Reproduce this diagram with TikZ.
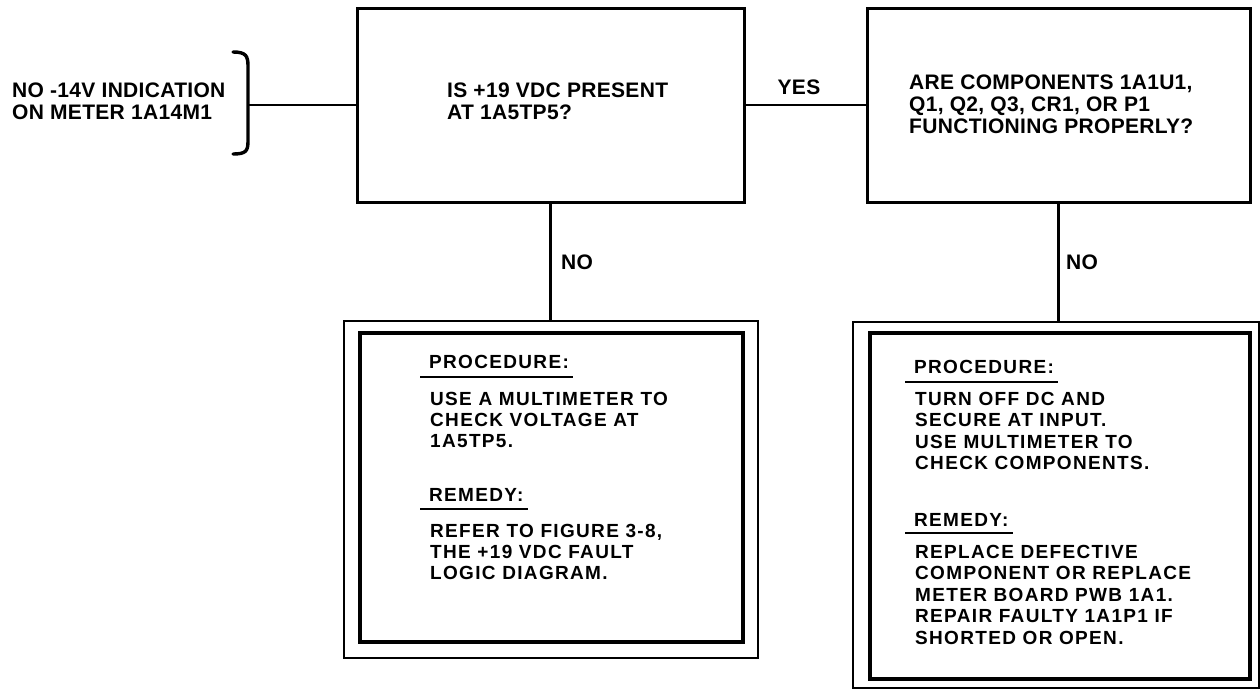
\documentclass[tikz,border=0pt]{standalone}
\usepackage{fontspec}
\setmainfont{Liberation Sans}
\newfontfamily\topfont{Liberation Sans}[LetterSpace=1.5]
\newfontfamily\lowfont{Liberation Sans}[LetterSpace=7]
\begin{document}
\begin{tikzpicture}[x=1pt,y=-1pt,
  qbox/.style={draw,line width=3pt,inner sep=0pt},
  obox/.style={draw,line width=2.6pt,inner sep=0pt},
  ibox/.style={draw,line width=3.4pt,inner sep=0pt},
  conn/.style={line width=2.6pt},
  ul/.style={line width=2pt},
  toptxt/.style={inner sep=0pt,anchor=north west,align=left,font=\topfont\bfseries\fontsize{21}{22}\selectfont},
  lowtxtA/.style={inner sep=0pt,anchor=north west,align=left,font=\lowfont\bfseries\fontsize{19}{21}\selectfont},
  lowtxtB/.style={inner sep=0pt,anchor=north west,align=left,font=\lowfont\bfseries\fontsize{19}{21.4}\selectfont},
  lbl/.style={inner sep=0pt,font=\topfont\bfseries\fontsize{21}{22}\selectfont}]
\useasboundingbox (0,0) rectangle (1260,689);

% decision boxes
\node[qbox,minimum width=387pt,minimum height=194pt] (q1) at (550.5,105) {};
\node[qbox,minimum width=383pt,minimum height=194pt] (q2) at (1058.5,105) {};

% procedure boxes (double frames)
\node[obox,minimum width=414pt,minimum height=337pt] (p1o) at (551,489.5) {};
\node[ibox,minimum width=383pt,minimum height=309pt] (p1i) at (551.5,487.5) {};
\node[obox,minimum width=406pt,minimum height=366pt] (p2o) at (1056,505) {};
\node[ibox,minimum width=380pt,minimum height=346pt] (p2i) at (1060,506) {};

% starting condition with brace
\node[toptxt] (start) at (12,83) {NO -14V INDICATION\\ON METER 1A14M1};
\coordinate (bt) at (233,52);
\coordinate (bb) at (233,154);
\coordinate (bm) at (248,105);
\draw[line width=3.4pt,line cap=round]
  (bt) .. controls (246,52) and (248,56) .. (248,66) -- (248,141)
  .. controls (248,151) and (246,154) .. (bb);
\draw[conn] (bm) -- (q1.west);

% question texts
\node[toptxt] (q1t) at (447,83) {IS +19 VDC PRESENT\\AT 1A5TP5?};
\node[toptxt] (q2t) at (909,75) {ARE COMPONENTS 1A1U1,\\Q1, Q2, Q3, CR1, OR P1\\FUNCTIONING PROPERLY?};

% connectors
\draw[conn] (q1.east) -- (q2.west);
\node[lbl] (yes) at (799,87) {YES};
\draw[conn] (q1.south) -- (q1.south |- p1o.north);
\node[lbl] (no1) at (577,262) {NO};
\draw[conn] (q2.south) -- (q2.south |- p2o.north);
\node[lbl] (no2) at (1082,262) {NO};

% procedure box 1 texts
\node[lowtxtA] (h1a) at (429,355) {PROCEDURE:};
\draw[ul] ([xshift=-9pt,yshift=-8pt]h1a.south west) -- ([xshift=4pt,yshift=-8pt]h1a.south east);
\node[lowtxtA] (b1a) at (430,392) {USE A MULTIMETER TO\\CHECK VOLTAGE AT\\1A5TP5.};
\node[lowtxtA] (h1b) at (429,488) {REMEDY:};
\draw[ul] ([xshift=-9pt,yshift=-8pt]h1b.south west) -- ([xshift=4pt,yshift=-8pt]h1b.south east);
\node[lowtxtA] (b1b) at (430,524) {REFER TO FIGURE 3-8,\\THE +19 VDC FAULT\\LOGIC DIAGRAM.};

% procedure box 2 texts
\node[lowtxtB] (h2a) at (914,360) {PROCEDURE:};
\draw[ul] ([xshift=-9pt,yshift=-8pt]h2a.south west) -- ([xshift=4pt,yshift=-8pt]h2a.south east);
\node[lowtxtB] (b2a) at (915,392) {TURN OFF DC AND\\SECURE AT INPUT.\\USE MULTIMETER TO\\CHECK COMPONENTS.};
\node[lowtxtB] (h2b) at (914,513) {REMEDY:};
\draw[ul] ([xshift=-9pt,yshift=-7pt]h2b.south west) -- ([xshift=4pt,yshift=-7pt]h2b.south east);
\node[lowtxtB] (b2b) at (915,545) {REPLACE DEFECTIVE\\COMPONENT OR REPLACE\\METER BOARD PWB 1A1.\\REPAIR FAULTY 1A1P1 IF\\SHORTED OR OPEN.};
\end{tikzpicture}
\end{document}
